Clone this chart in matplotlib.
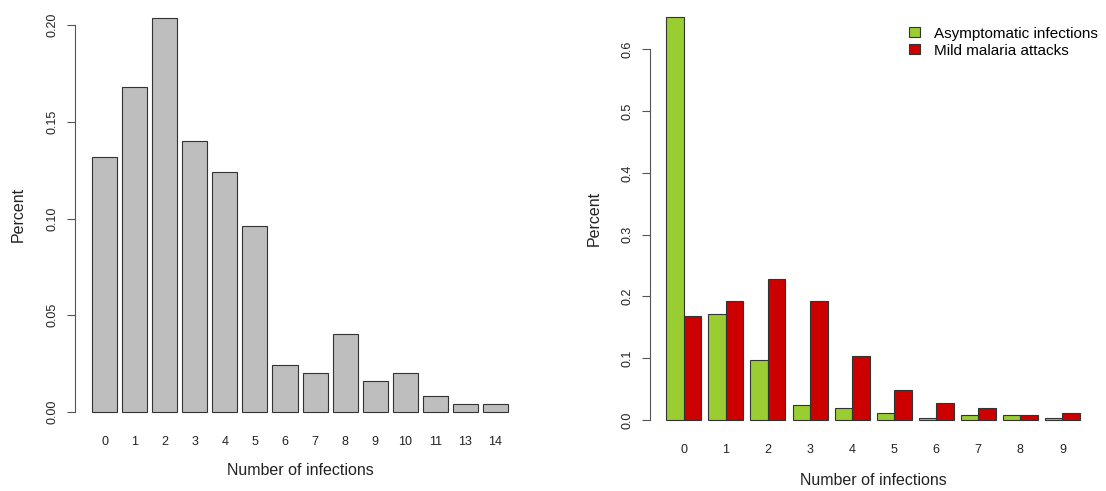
import numpy as np
import matplotlib.pyplot as plt

plt.rcParams['font.family'] = ['Liberation Sans', 'DejaVu Sans']

# left panel: distribution of number of infections
left_labels = ['0', '1', '2', '3', '4', '5', '6', '7', '8', '9', '10', '11', '13', '14']
left_values = [0.132, 0.168, 0.204, 0.140, 0.124, 0.096, 0.024, 0.020,
               0.040, 0.016, 0.020, 0.008, 0.004, 0.004]

# right panel: asymptomatic vs mild attacks
right_labels = ['0', '1', '2', '3', '4', '5', '6', '7', '8', '9']
asymptomatic = [0.653, 0.172, 0.097, 0.024, 0.020, 0.012, 0.004, 0.008, 0.008, 0.004]
mild = [0.168, 0.192, 0.228, 0.192, 0.104, 0.048, 0.028, 0.020, 0.008, 0.012]

grey = '#BEBEBE'
green = '#9ACD32'
red = '#CD0000'
edge = '#333333'
tick_fs = 9
label_fs = 11.5

fig = plt.figure(figsize=(11.06, 4.91), dpi=100)
ax1 = fig.add_axes([0.0682, 0.1293, 0.4062, 0.867])
ax2 = fig.add_axes([0.5875, 0.1118, 0.4039, 0.8872])


def style_axis(ax, yticks, ytick_fmt):
    for s in ['top', 'right', 'bottom']:
        ax.spines[s].set_visible(False)
    ax.spines['left'].set_bounds(yticks[0], yticks[-1])
    ax.spines['left'].set_color('#555555')
    ax.set_yticks(yticks)
    ax.set_yticklabels([ytick_fmt.format(v) for v in yticks],
                       rotation=90, va='center', fontsize=tick_fs, color='#222222')
    ax.tick_params(axis='y', length=6, pad=6, color='#555555')
    ax.tick_params(axis='x', length=0, pad=6, labelsize=tick_fs, labelcolor='#222222')
    ax.set_ylabel('Percent', fontsize=label_fs, color='#222222')
    ax.set_xlabel('Number of infections', fontsize=label_fs, color='#222222')


# left barplot (R style: width 1, space 0.2)
x1 = 0.7 + 1.2 * np.arange(len(left_values))
ax1.bar(x1, left_values, width=1.0, color=grey, edgecolor=edge, linewidth=0.8)
ax1.set_xlim(-0.464, 17.464)
ax1.set_ylim(-0.00816, 0.21216)
ax1.set_xticks(x1)
ax1.set_xticklabels(left_labels)
style_axis(ax1, [0.0, 0.05, 0.10, 0.15, 0.20], '{:.2f}')
ax1.yaxis.set_label_coords(-0.11, 0.5)
ax1.xaxis.set_label_coords(0.5, -0.083)

# right grouped barplot
g = 2.4 * np.arange(len(right_labels))
b1 = ax2.bar(g + 0.9, asymptomatic, width=1.0, color=green, edgecolor=edge,
             linewidth=0.8, label='Asymptomatic infections')
b2 = ax2.bar(g + 1.9, mild, width=1.0, color=red, edgecolor=edge,
             linewidth=0.8, label='Mild malaria attacks')
ax2.set_xlim(-0.544, 24.944)
ax2.set_ylim(-0.0261, 0.679)
ax2.set_xticks(g + 1.4)
ax2.set_xticklabels(right_labels)
style_axis(ax2, [0.0, 0.1, 0.2, 0.3, 0.4, 0.5, 0.6], '{:.1f}')
ax2.yaxis.set_label_coords(-0.107, 0.5)
ax2.xaxis.set_label_coords(0.5, -0.085)

fig.legend(handles=[b1, b2], loc='upper left', bbox_to_anchor=(0.822, 0.946),
           frameon=False, fontsize=11, handlelength=0.7, handleheight=0.6,
           handletextpad=0.9, labelspacing=0.2, borderpad=0, borderaxespad=0)

plt.savefig('out.png', dpi=100)
